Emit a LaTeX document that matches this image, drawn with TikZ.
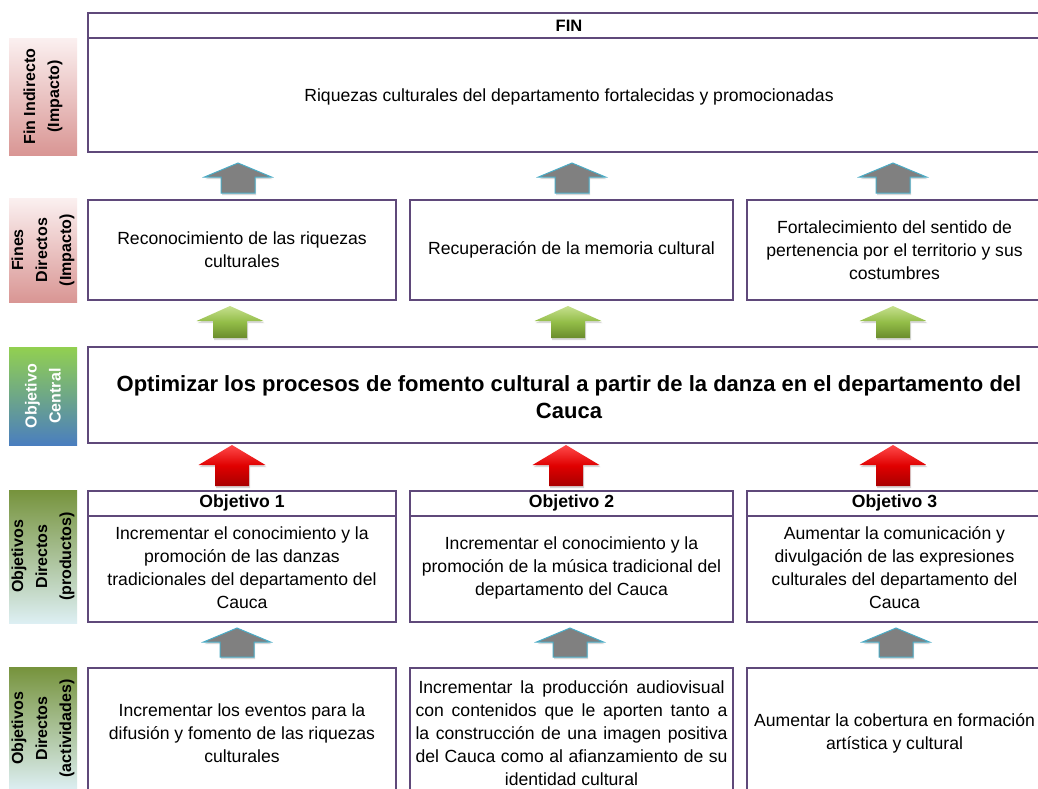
\documentclass[tikz,border=0pt]{standalone}
\usepackage{fontspec}
\setmainfont{Liberation Sans}
\usetikzlibrary{shadows}
\definecolor{boxline}{HTML}{5F497A}
\definecolor{pinktop}{HTML}{FBF0F0}
\definecolor{pinkbot}{HTML}{D99694}
\definecolor{centtop}{HTML}{92D050}
\definecolor{centbot}{HTML}{4A7EBF}
\definecolor{olivetop}{HTML}{76933C}
\definecolor{olivebot}{HTML}{DDEFF3}
\definecolor{grayarr}{HTML}{808080}
\definecolor{grayedge}{HTML}{4BACC6}
\definecolor{greentop}{HTML}{C6E08E}
\definecolor{greenmid}{HTML}{93BD48}
\definecolor{greenbot}{HTML}{6A8C2C}
\definecolor{redtop}{HTML}{FF4A4A}
\definecolor{redmid}{HTML}{E00000}
\definecolor{redbot}{HTML}{A80000}
\newcommand{\uparr}[5]{%
  \path[#1] (#2,#3) -- ({#2+33.5},{#3+#4}) -- ({#2+17},{#3+#4}) -- ({#2+17},{#3+#5})
    -- ({#2-17},{#3+#5}) -- ({#2-17},{#3+#4}) -- ({#2-33.5},{#3+#4}) -- cycle;}
\tikzset{
  box/.style={draw=boxline, line width=2pt, fill=white, inner sep=0pt, align=center,
    font=\fontsize{17.6}{23}\selectfont},
  hdr/.style={font=\bfseries\fontsize{17.6}{22}\selectfont, inner sep=0pt},
  lab/.style={rotate=90, minimum height=68pt, inner sep=0pt, align=center,
    font=\bfseries\fontsize{16}{24}\selectfont},
  pinklab/.style={top color=pinktop, bottom color=pinkbot},
  centlab/.style={top color=centtop, bottom color=centbot, text=white},
  olivelab/.style={top color=olivetop, bottom color=olivebot},
  grayup/.style={fill=grayarr, draw=grayedge, line width=1pt,
    drop shadow={opacity=0.3, shadow xshift=1pt, shadow yshift=-2pt}},
  greenup/.style={top color=greentop, bottom color=greenbot, middle color=greenmid,
    drop shadow={opacity=0.3, shadow xshift=1pt, shadow yshift=-2pt}},
  redup/.style={top color=redtop, bottom color=redbot, middle color=redmid,
    drop shadow={opacity=0.3, shadow xshift=1pt, shadow yshift=-2pt}},
}
\begin{document}
\begin{tikzpicture}[x=1pt,y=-1pt]
\useasboundingbox (0,0) rectangle (1038,788);
\fill[white] (0,0) rectangle (1038,788);

% left labels
\node[lab, pinklab, minimum width=117pt] (l1) at (43,96.5) {Fin Indirecto\\(Impacto)};
\node[lab, pinklab, minimum width=104pt] (l2) at (43,250) {Fines\\Directos\\(Impacto)};
\node[lab, centlab, minimum width=98pt] (l3) at (43,396) {Objetivo\\Central};
\node[lab, olivelab, minimum width=133pt] (l4) at (43,556.5) {Objetivos\\Directos\\(productos)};
\node[lab, olivelab, minimum width=123pt] (l5) at (43,728.5) {Objetivos\\Directos\\(actividades)};

% FIN box
\node[box, minimum width=962pt, minimum height=139pt] (fin) at (569,82.5) {};
\draw[boxline, line width=2pt] (88,38) -- (1050,38);
\node[hdr, font=\bfseries\fontsize{16.5}{20}\selectfont] (finh) at (569,26) {FIN};
\node[inner sep=0pt, font=\fontsize{17.6}{23}\selectfont] (fint) at (569,97)
  {Riquezas culturales del departamento fortalecidas y promocionadas};

% Fines directos
\node[box, minimum width=308pt, minimum height=100pt] (f1) at (242,250)
  {Reconocimiento de las riquezas\\culturales};
\node[box, minimum width=323pt, minimum height=100pt] (f2) at (571.5,250)
  {Recuperación de la memoria cultural};
\node[box, minimum width=295pt, minimum height=100pt] (f3) at (894.5,250)
  {Fortalecimiento del sentido de\\pertenencia por el territorio y sus\\costumbres};

% Objetivo central
\node[box, minimum width=954pt, minimum height=96pt] (cen) at (565,395) {};
\node[inner sep=0pt, align=center, font=\bfseries\fontsize{22}{27}\selectfont] (cent) at (569,397)
  {Optimizar los procesos de fomento cultural a partir de la danza en el departamento del\\Cauca};

% Objetivos directos (productos)
\node[box, minimum width=308pt, minimum height=131pt] (o1) at (242,556.5) {};
\node[box, minimum width=323pt, minimum height=131pt] (o2) at (571.5,556.5) {};
\node[box, minimum width=295pt, minimum height=131pt] (o3) at (894.5,556.5) {};
\draw[boxline, line width=2pt] (88,516) -- (396,516) (410,516) -- (733,516) (747,516) -- (1042,516);
\node[hdr] (o1h) at (242,503) {Objetivo 1};
\node[hdr] (o2h) at (571.5,503) {Objetivo 2};
\node[hdr] (o3h) at (894.5,503) {Objetivo 3};
\node[inner sep=0pt, align=center, font=\fontsize{17.6}{23}\selectfont] (o1t) at (242,568)
  {Incrementar el conocimiento y la\\promoción de las danzas\\tradicionales del departamento del\\Cauca};
\node[inner sep=0pt, align=center, font=\fontsize{17.6}{23}\selectfont] (o2t) at (571.5,568)
  {Incrementar el conocimiento y la\\promoción de la música tradicional del\\departamento del Cauca};
\node[inner sep=0pt, align=center, font=\fontsize{17.6}{23}\selectfont] (o3t) at (894.5,568)
  {Aumentar la comunicación y\\divulgación de las expresiones\\culturales del departamento del\\Cauca};

% Objetivos directos (actividades)
\node[box, minimum width=308pt, minimum height=130pt] (a1) at (242,733)
  {Incrementar los eventos para la\\difusión y fomento de las riquezas\\culturales};
\node[box, minimum width=323pt, minimum height=130pt] (a2) at (571.5,733)
  {\parbox{312pt}{\centering
   \makebox[306pt][s]{Incrementar la producción audiovisual}\\
   \makebox[312pt][s]{con contenidos que le aporten tanto a}\\
   \makebox[312pt][s]{la construcción de una imagen positiva}\\
   \makebox[312pt][s]{del Cauca como al afianzamiento de su}\\
   identidad cultural}};
\node[box, minimum width=295pt, minimum height=130pt] (a3) at (894.5,733)
  {Aumentar la cobertura en formación\\artística y cultural};

% arrows
\uparr{grayup}{238}{163}{14}{30}
\uparr{grayup}{572}{163}{14}{30}
\uparr{grayup}{893}{163}{14}{30}
\uparr{greenup}{230}{306}{15}{32}
\uparr{greenup}{568}{306}{15}{32}
\uparr{greenup}{893}{306}{15}{32}
\uparr{redup}{232}{445}{20}{41}
\uparr{redup}{566}{445}{20}{41}
\uparr{redup}{893}{445}{20}{41}
\uparr{grayup}{237}{628}{14}{29}
\uparr{grayup}{570}{628}{14}{29}
\uparr{grayup}{896}{628}{14}{29}
\end{tikzpicture}
\end{document}
